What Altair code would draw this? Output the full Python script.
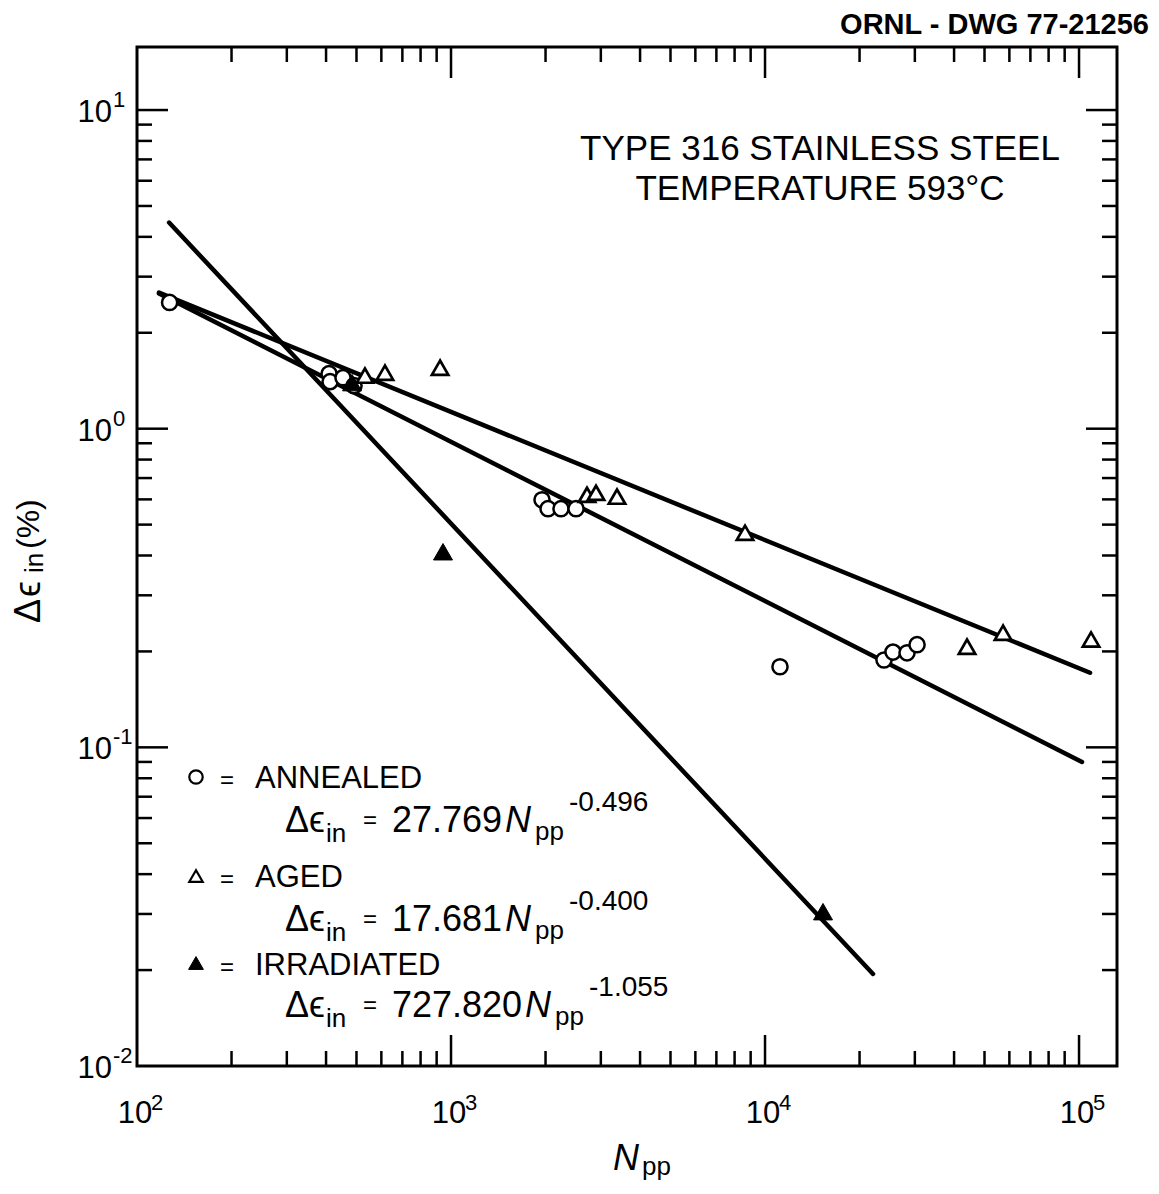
import altair as alt
import pandas as pd

# ---------------- data ----------------
# Annealed (open circles)
ann_n = [127, 409, 412, 453, 491, 1949, 2037, 2240, 2501, 11160, 23930, 25560, 28330, 30490]
ann_e = [2.49, 1.488, 1.405, 1.446, 1.365, 0.598, 0.561, 0.561, 0.561, 0.179, 0.188, 0.199, 0.198, 0.210]
# Aged (open triangles)
aged_n = [532, 616, 923, 2711, 2896, 3378, 8636, 43990, 57280, 109200]
aged_e = [1.467, 1.499, 1.554, 0.620, 0.629, 0.612, 0.4715, 0.207, 0.229, 0.218]
# Irradiated (filled triangles)
irr_n = [484, 943, 15300]
irr_e = [1.395, 0.411, 0.0305]

# fitted lines (end points)
line_series = ["annealed", "annealed", "aged", "aged", "irradiated", "irradiated"]
line_n = [117.5, 102200, 117.5, 108400, 126.5, 22080]
line_e = [2.654, 0.0900, 2.673, 0.1714, 4.435, 0.01945]

# axis ticks and labels
x_major = [1e3, 1e4, 1e5]
x_minor = [k * 10 ** d for d in (2, 3, 4) for k in range(2, 10)]
y_major = [0.1, 1, 10]
y_minor = [k * 10.0 ** d for d in (-2, -1, 0) for k in range(2, 10)]
x_label_vals = [100, 1000, 10000, 100000]
x_label_exp = ["2", "3", "4", "5"]
y_label_vals = [0.01, 0.1, 1, 10]
y_label_exp = ["-2", "-1", "0", "1"]

# ---------------- layout ----------------
W, H = 980, 1019
X0, Y0 = 137, 47          # page position of the plot origin
MAJ, MIN = 31, 15         # tick lengths
FONT = "Liberation Sans, Arial, DejaVu Sans"

xs = alt.Scale(type="log", domain=[100, 132100], nice=False)
ys = alt.Scale(type="log", domain=[0.01, 15.77], nice=False)


def X(f):
    return alt.X(f, type="quantitative", scale=xs, axis=None)


def Y(f):
    return alt.Y(f, type="quantitative", scale=ys, axis=None)


one = pd.DataFrame({"k": [0]})


def txt(s, px, py, size, align="left", angle=0, italic=False, weight="normal"):
    return alt.Chart(one).mark_text(
        text=s, fontSize=size, align=align, baseline="alphabetic", angle=angle,
        font=FONT, fontStyle="italic" if italic else "normal", fontWeight=weight,
        color="black",
    ).encode(x=alt.value(px - X0), y=alt.value(py - Y0))


layers = []

# ---- ticks (inward, all four sides) ----
for vals, L in ((x_major, MAJ), (x_minor, MIN)):
    d = pd.DataFrame({"v": vals})
    layers.append(alt.Chart(d).mark_rule(color="black", strokeWidth=2.5).encode(
        x=X("v"), y=alt.value(H), y2=alt.value(H - L)))
    layers.append(alt.Chart(d).mark_rule(color="black", strokeWidth=2.5).encode(
        x=X("v"), y=alt.value(0), y2=alt.value(L)))
for vals, L in ((y_major, MAJ), (y_minor, MIN)):
    d = pd.DataFrame({"v": vals})
    layers.append(alt.Chart(d).mark_rule(color="black", strokeWidth=2.5).encode(
        y=Y("v"), x=alt.value(0), x2=alt.value(L)))
    layers.append(alt.Chart(d).mark_rule(color="black", strokeWidth=2.5).encode(
        y=Y("v"), x=alt.value(W), x2=alt.value(W - L)))

# ---- tick labels ----
xlab = pd.DataFrame({"v": x_label_vals, "p": x_label_exp})
layers.append(alt.Chart(xlab).mark_text(text="10", fontSize=31, font=FONT, align="center",
                                        baseline="alphabetic", dx=-2, color="black").encode(
    x=X("v"), y=alt.value(1123 - Y0)))
layers.append(alt.Chart(xlab).mark_text(fontSize=22, font=FONT, align="left",
                                        baseline="alphabetic", dx=14, color="black").encode(
    x=X("v"), y=alt.value(1110 - Y0), text="p:N"))
ylab = pd.DataFrame({"v": y_label_vals, "p": y_label_exp})
layers.append(alt.Chart(ylab).mark_text(text="10", fontSize=31, font=FONT, align="right",
                                        baseline="alphabetic", dy=12, color="black").encode(
    x=alt.value(112 - X0), y=Y("v")))
layers.append(alt.Chart(ylab).mark_text(fontSize=22, font=FONT, align="left",
                                        baseline="alphabetic", dy=-3, color="black").encode(
    x=alt.value(113 - X0), y=Y("v"), text="p:N"))

# ---- fitted lines ----
ldf = pd.DataFrame({"s": line_series, "n": line_n, "e": line_e})
layers.append(alt.Chart(ldf).mark_line(color="black", strokeWidth=4.5, strokeCap="round").encode(
    x=X("n"), y=Y("e"), detail="s:N"))

# ---- data points ----
layers.append(alt.Chart(pd.DataFrame({"n": ann_n, "e": ann_e})).mark_point(
    shape="circle", filled=True, fill="white", stroke="black", strokeWidth=2.5,
    size=230, opacity=1).encode(x=X("n"), y=Y("e")))
layers.append(alt.Chart(pd.DataFrame({"n": aged_n, "e": aged_e})).mark_point(
    shape="triangle-up", filled=True, fill="white", stroke="black", strokeWidth=2.7,
    size=270, opacity=1).encode(x=X("n"), y=Y("e")))
layers.append(alt.Chart(pd.DataFrame({"n": irr_n, "e": irr_e})).mark_point(
    shape="triangle-up", filled=True, fill="black", stroke="black", strokeWidth=1,
    size=360, opacity=1).encode(x=X("n"), y=Y("e")))

# ---- legend glyphs ----
layers.append(alt.Chart(one).mark_point(shape="circle", filled=True, fill="white", stroke="black",
                                        strokeWidth=2.2, size=180, opacity=1).encode(
    x=alt.value(196 - X0), y=alt.value(777 - Y0)))
layers.append(alt.Chart(one).mark_point(shape="triangle-up", filled=True, fill="white", stroke="black",
                                        strokeWidth=2.2, size=180, opacity=1).encode(
    x=alt.value(196 - X0), y=alt.value(876 - Y0)))
layers.append(alt.Chart(one).mark_point(shape="triangle-up", filled=True, fill="black", stroke="black",
                                        strokeWidth=1, size=220, opacity=1).encode(
    x=alt.value(196 - X0), y=alt.value(963 - Y0)))

# ---- legend text ----
rows = [("ANNEALED", 788, 832, "27.769", "-0.496"),
        ("AGED", 887, 931, "17.681", "-0.400"),
        ("IRRADIATED", 975, 1017, "727.820", "-1.055")]
for name, b1, b2, coef, expo in rows:
    layers.append(txt("=", 220, b1, 24))
    layers.append(txt(name, 255, b1, 31))
    layers.append(txt("\u0394\u03f5", 285, b2, 36))
    layers.append(txt("in", 326, b2 + 10, 26))
    layers.append(txt("=", 363, b2 - 4, 24))
    layers.append(txt(coef, 392, b2, 36))
    nx = 392 + (len(coef) - 1) * 20 + 10 + 3
    layers.append(txt("N", nx, b2, 36, italic=True))
    layers.append(txt("pp", nx + 30, b2 + 8, 26))
    layers.append(txt(expo, nx + 64, b2 - 21, 28))

# ---- title block ----
layers.append(txt("TYPE  316  STAINLESS  STEEL", 820, 160, 35, align="center"))
layers.append(txt("TEMPERATURE  593\u00b0C", 820, 200, 35, align="center"))
layers.append(txt("ORNL - DWG 77-21256", 1149, 34, 29, align="right", weight="bold"))

# ---- axis titles ----
layers.append(txt("\u0394", 40, 623, 36, angle=270))
layers.append(txt("\u03f5", 40, 597, 36, angle=270))
layers.append(txt("in", 43, 573, 26, angle=270))
layers.append(txt("(%)", 39, 549, 32, angle=270))
layers.append(txt("N", 613, 1170, 36, italic=True))
layers.append(txt("pp", 642, 1175, 26))

chart = alt.layer(*layers).properties(
    width=W, height=H,
    autosize=alt.AutoSizeParams(type="none"),
    padding={"left": X0 - 8, "top": Y0 - 8, "right": 33, "bottom": 120},
).configure(background="white").configure_view(stroke="black", strokeWidth=3)

chart.save("out.html", embed_options={"renderer": "svg", "actions": False})
